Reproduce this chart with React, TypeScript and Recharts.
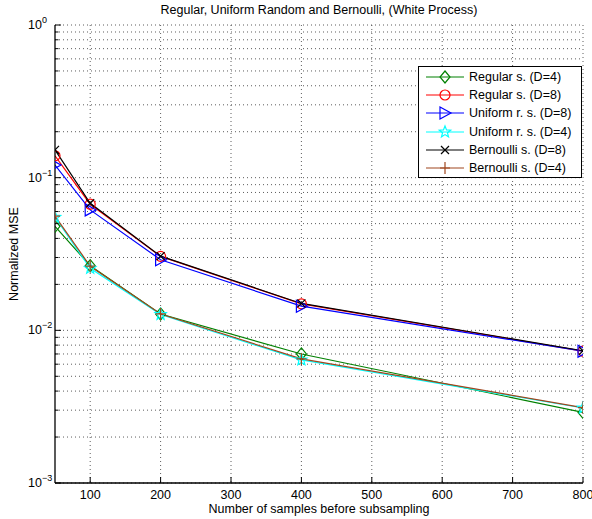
import React from 'react'
import { LineChart, Line, XAxis, YAxis, CartesianGrid } from 'recharts'

const FONT = '"Liberation Sans", Arial, Helvetica, sans-serif'
const FS = 12.5

// number of samples before subsampling
const samples = [50, 100, 200, 400, 800]

// normalized MSE per method
const regularD4 = [0.048, 0.0265, 0.0128, 0.007, 0.0029]
const regularD8 = [0.139, 0.067, 0.0305, 0.0149, 0.0073]
const uniformD8 = [0.121, 0.0615, 0.029, 0.0144, 0.0073]
const uniformD4 = [0.055, 0.0255, 0.0127, 0.0064, 0.0031]
const bernoulliD8 = [0.152, 0.068, 0.0306, 0.015, 0.00735]
const bernoulliD4 = [0.056, 0.0263, 0.0128, 0.0065, 0.00312]

const xTicks = [100, 200, 300, 400, 500, 600, 700, 800]
const yMajor = [0.001, 0.01, 0.1, 1]
const yMinor = [
    0.002, 0.003, 0.004, 0.005, 0.006, 0.007, 0.008, 0.009,
    0.02, 0.03, 0.04, 0.05, 0.06, 0.07, 0.08, 0.09,
    0.2, 0.3, 0.4, 0.5, 0.6, 0.7, 0.8, 0.9,
]
const yTicks = [...yMajor, ...yMinor].sort((a, b) => a - b)

const data = samples.map((s, i) => ({
    samples: s,
    regularD4: regularD4[i],
    regularD8: regularD8[i],
    uniformD8: uniformD8[i],
    uniformD4: uniformD4[i],
    bernoulliD8: bernoulliD8[i],
    bernoulliD4: bernoulliD4[i],
}))

type Marker = 'diamond' | 'circle' | 'triangle' | 'star' | 'x' | 'plus'

const series: { key: string; name: string; color: string; marker: Marker }[] = [
    { key: 'regularD4', name: 'Regular s. (D=4)', color: '#008000', marker: 'diamond' },
    { key: 'regularD8', name: 'Regular s. (D=8)', color: '#ff0000', marker: 'circle' },
    { key: 'uniformD8', name: 'Uniform r. s. (D=8)', color: '#0000ff', marker: 'triangle' },
    { key: 'uniformD4', name: 'Uniform r. s. (D=4)', color: '#00ffff', marker: 'star' },
    { key: 'bernoulliD8', name: 'Bernoulli s. (D=8)', color: '#000000', marker: 'x' },
    { key: 'bernoulliD4', name: 'Bernoulli s. (D=4)', color: '#a0461e', marker: 'plus' },
]

function drawMarker(type: Marker, cx: number, cy: number, color: string, key?: string) {
    const common = { stroke: color, strokeWidth: 1.2, fill: 'none' }
    switch (type) {
        case 'diamond':
            return <path key={key} d={`M${cx},${cy - 6}L${cx + 5},${cy}L${cx},${cy + 6}L${cx - 5},${cy}Z`} {...common} />
        case 'circle':
            return <circle key={key} cx={cx} cy={cy} r={5} {...common} />
        case 'triangle':
            return <path key={key} d={`M${cx - 5},${cy - 6}L${cx + 6},${cy}L${cx - 5},${cy + 6}Z`} {...common} />
        case 'star': {
            const pts: string[] = []
            for (let k = 0; k < 10; k++) {
                const r = k % 2 === 0 ? 6 : 2.6
                const a = -Math.PI / 2 + (k * Math.PI) / 5
                pts.push(`${cx + r * Math.cos(a)},${cy + r * Math.sin(a)}`)
            }
            return <polygon key={key} points={pts.join(' ')} {...common} />
        }
        case 'x':
            return (
                <path key={key} d={`M${cx - 4},${cy - 4}L${cx + 4},${cy + 4}M${cx - 4},${cy + 4}L${cx + 4},${cy - 4}`} {...common} />
            )
        case 'plus':
            return <path key={key} d={`M${cx - 5},${cy}L${cx + 5},${cy}M${cx},${cy - 6}L${cx},${cy + 6}`} {...common} />
    }
}

function LeftTick({ x, y, payload }: any) {
    const v = payload.value as number
    const major = yMajor.includes(v)
    const exp = Math.round(Math.log10(v))
    return (
        <g>
            <line x1={x} x2={x + (major ? 6 : 3.5)} y1={y} y2={y} stroke="#000" strokeWidth={1} />
            {major && (
                <text x={x - 27} y={y + 4} fontSize={FS} fill="#000" fontFamily={FONT}>
                    10
                    <tspan dy={-6} fontSize={9}>{exp === 0 ? '0' : `\u2212${-exp}`}</tspan>
                </text>
            )}
        </g>
    )
}

function RightTick({ x, y, payload }: any) {
    const major = yMajor.includes(payload.value)
    return <line x1={x} x2={x - (major ? 6 : 3.5)} y1={y} y2={y} stroke="#000" strokeWidth={1} />
}

function BottomTick({ x, y, payload }: any) {
    return (
        <g>
            <line x1={x} x2={x} y1={y} y2={y - 6} stroke="#000" strokeWidth={1} />
            <text x={x} y={y + 16} textAnchor="middle" fontSize={FS} fill="#000" fontFamily={FONT}>
                {payload.value}
            </text>
        </g>
    )
}

function TopTick({ x, y }: any) {
    return <line x1={x} x2={x} y1={y} y2={y + 6} stroke="#000" strokeWidth={1} />
}

function LegendBox() {
    return (
        <div
            style={{
                position: 'absolute',
                left: 418,
                top: 66,
                width: 164,
                height: 112,
                boxSizing: 'border-box',
                border: '1px solid #000',
                background: '#fff',
                paddingTop: 1,
                fontFamily: FONT,
                fontSize: FS,
                color: '#000',
            }}
        >
            {series.map(s => (
                <div key={s.key} style={{ display: 'flex', alignItems: 'center', height: 18.2 }}>
                    <svg width={38} height={16} style={{ marginLeft: 7, marginRight: 5, overflow: 'visible' }}>
                        <line x1={0} x2={38} y1={8} y2={8} stroke={s.color} strokeWidth={1.2} />
                        {drawMarker(s.marker, 19, 8, s.color)}
                    </svg>
                    <span style={{ whiteSpace: 'nowrap' }}>{s.name}</span>
                </div>
            ))}
        </div>
    )
}

export default function App() {
    return (
        <div style={{ position: 'absolute', left: 0, top: 0, width: 592, height: 519, background: '#fff' }}>
            <div
                style={{
                    position: 'absolute',
                    left: 55,
                    top: 3,
                    width: 528,
                    textAlign: 'center',
                    fontFamily: FONT,
                    fontSize: FS,
                    lineHeight: '14px',
                    color: '#000',
                }}
            >
                Regular, Uniform Random and Bernoulli, (White Process)
            </div>
            <LineChart width={592} height={519} data={data} margin={{ top: 25, right: 9, left: 10, bottom: 0 }}>
                <CartesianGrid
                    horizontalValues={yTicks}
                    verticalValues={xTicks}
                    stroke="#333"
                    strokeDasharray="1 3"
                    strokeWidth={0.8}
                />
                <XAxis
                    dataKey="samples"
                    type="number"
                    domain={[50, 800]}
                    allowDataOverflow
                    ticks={xTicks}
                    interval={0}
                    tickSize={0}
                    tickMargin={0}
                    tickLine={false}
                    height={36}
                    axisLine={{ stroke: '#000', strokeWidth: 1.3 }}
                    tick={<BottomTick />}
                    label={{
                        value: 'Number of samples before subsampling',
                        position: 'insideBottom',
                        offset: 6,
                        fontSize: FS,
                        fill: '#000',
                        fontFamily: FONT,
                    }}
                />
                <XAxis
                    xAxisId="top"
                    orientation="top"
                    dataKey="samples"
                    type="number"
                    domain={[50, 800]}
                    allowDataOverflow
                    ticks={xTicks}
                    interval={0}
                    tickSize={0}
                    tickMargin={0}
                    tickLine={false}
                    height={0}
                    axisLine={{ stroke: '#000', strokeWidth: 1.3 }}
                    tick={<TopTick />}
                />
                <YAxis
                    scale="log"
                    type="number"
                    domain={[0.001, 1]}
                    allowDataOverflow
                    ticks={yTicks}
                    interval={0}
                    tickSize={0}
                    tickMargin={0}
                    tickLine={false}
                    width={45}
                    axisLine={{ stroke: '#000', strokeWidth: 1.3 }}
                    tick={<LeftTick />}
                    label={{
                        value: 'Normalized MSE',
                        angle: -90,
                        position: 'insideLeft',
                        offset: 4,
                        fontSize: FS,
                        fill: '#000',
                        fontFamily: FONT,
                        style: { textAnchor: 'middle' },
                    }}
                />
                <YAxis
                    yAxisId="right"
                    orientation="right"
                    scale="log"
                    type="number"
                    domain={[0.001, 1]}
                    allowDataOverflow
                    ticks={yTicks}
                    interval={0}
                    tickSize={0}
                    tickMargin={0}
                    tickLine={false}
                    width={0}
                    axisLine={{ stroke: '#000', strokeWidth: 1.3 }}
                    tick={<RightTick />}
                />
                {series.map(s => (
                    <Line
                        key={s.key}
                        dataKey={s.key}
                        name={s.name}
                        type="linear"
                        stroke={s.color}
                        strokeWidth={1.2}
                        isAnimationActive={false}
                        dot={(p: any) => drawMarker(s.marker, p.cx, p.cy, s.color, `${s.key}-${p.index}`)}
                        activeDot={false}
                    />
                ))}
            </LineChart>
            <LegendBox />
        </div>
    )
}
